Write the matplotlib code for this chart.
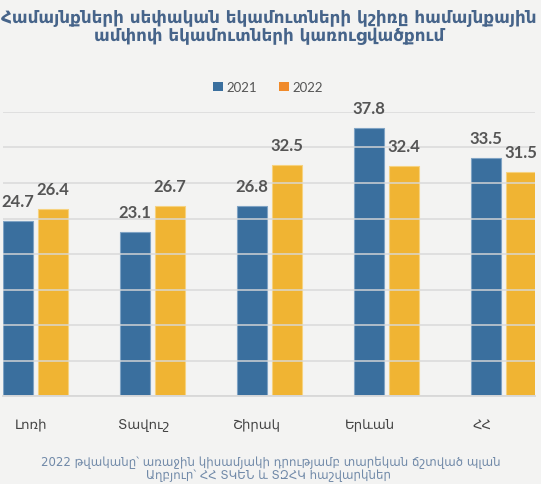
import matplotlib
matplotlib.use("Agg")
import matplotlib.pyplot as plt
import numpy as np
from matplotlib.patches import Patch

categories = ["Լոռի", "Տավուշ", "Շիրակ", "Երևան", "ՀՀ"]
values_2021 = [24.7, 23.1, 26.8, 37.8, 33.5]
values_2022 = [26.4, 26.7, 32.5, 32.4, 31.5]
series_names = ["2021", "2022"]

title_l1 = "Համայնքների սեփական եկամուտների կշիռը համայնքային"
title_l2 = "ամփոփ եկամուտների կառուցվածքում"
foot_l1 = "2022 թվականը՝ առաջին կիսամյակի դրությամբ տարեկան ճշտված պլան"
foot_l2 = "Աղբյուր՝ ՀՀ ՏԿԵՆ և ՏԶՀԿ հաշվարկներ"

BLUE = "#3a6f9e"
YELLOW = "#f0b433"
LEG_ORANGE = "#f08a2a"
BG = "#f3f3f2"

W, H = 541, 485
fig = plt.figure(figsize=(W / 100, H / 100), dpi=100, facecolor=BG)
ax = fig.add_axes([3 / W, 88 / H, 532 / W, 284 / H])
ax.set_facecolor(BG)

x = np.arange(len(categories))
bw = 0.256
off = 0.15
b1 = ax.bar(x - off, values_2021, bw, color=BLUE, edgecolor="#7fa3c4", linewidth=0.8, zorder=2)
b2 = ax.bar(x + off, values_2022, bw, color=YELLOW, edgecolor="#f6d27f", linewidth=0.8, zorder=2)

for bars, vals in ((b1, values_2021), (b2, values_2022)):
    for r, v in zip(bars, vals):
        ax.annotate(f"{v:.1f}", (r.get_x() + r.get_width() / 2, v),
                    xytext=(0, 12), textcoords="offset pixels",
                    ha="center", va="bottom", fontsize=12, fontweight="bold",
                    family=["Lato", "DejaVu Sans"], color="#555555", clip_on=False)

ax.set_ylim(0, 40)
ax.set_xlim(-0.28, 4.27)
ax.set_yticks(np.arange(0, 41, 5))
ax.yaxis.grid(True, color="#d8d8d8", linewidth=1.3, alpha=0.8, zorder=3)
ax.set_axisbelow(False)
ax.tick_params(axis="y", left=False, labelleft=False)
for s in ("left", "right", "top"):
    ax.spines[s].set_visible(False)
ax.spines["bottom"].set_color("#d8d8d8")
ax.spines["bottom"].set_linewidth(1.3)

ax.set_xticks(x * 0.965 - 0.04)
ax.set_xticklabels(categories, fontsize=9.5, color="#444444", family=["DejaVu Sans"])
ax.tick_params(axis="x", bottom=False, pad=12)

handles = [Patch(facecolor=BLUE, edgecolor="none"), Patch(facecolor=LEG_ORANGE, edgecolor="none")]
fig.legend(handles, series_names, loc="center", bbox_to_anchor=(268 / W, 1 - 88 / H),
           ncol=2, frameon=False, handlelength=0.75, handleheight=0.75,
           handletextpad=0.3, columnspacing=1.6, labelcolor="#555555",
           prop={"family": ["Lato", "DejaVu Sans"], "size": 9.5})

renderer = fig.canvas.get_renderer()


def fitted_text(xpx, ypx, s, target_w, base_size, **kw):
    t = fig.text(xpx / W, 1 - ypx / H, s, ha="center", va="baseline", fontsize=base_size, **kw)
    w = t.get_window_extent(renderer).width
    t.set_fontsize(base_size * target_w / w)
    return t


tc = "#46648a"
t1 = fitted_text(269, 22, title_l1, 532, 12, fontweight="bold", color=tc, family=["DejaVu Sans"])
t2 = fig.text(269 / W, 1 - 41 / H, title_l2, ha="center", va="baseline",
              fontsize=t1.get_fontsize(), fontweight="bold", color=tc, family=["DejaVu Sans"])

fc = "#7089a8"
f1 = fitted_text(271, 466, foot_l1, 457, 9, color=fc, family=["DejaVu Sans"])
fig.text(268 / W, 1 - 479 / H, foot_l2, ha="center", va="baseline", fontsize=f1.get_fontsize(),
         color=fc, family=["DejaVu Sans"])

fig.savefig("out.png", dpi=100, facecolor=BG)
